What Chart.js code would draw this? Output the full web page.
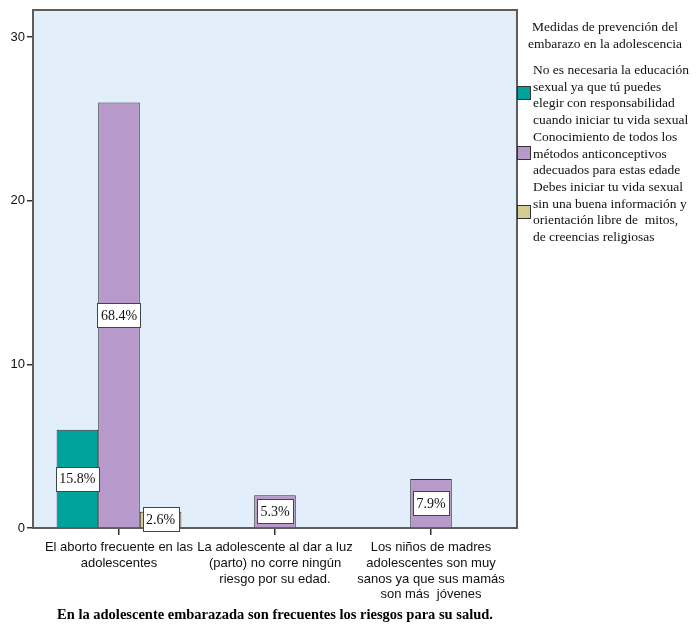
<!DOCTYPE html>
<html><head><meta charset="utf-8">
<script src="https://cdn.jsdelivr.net/npm/chart.js@4/dist/chart.umd.min.js"></script>
<style>
html,body{margin:0;padding:0;background:#fff;}
#wrap{position:relative;width:696px;height:626px;overflow:hidden;}
canvas{position:absolute;left:0;top:0;}
.leg{position:absolute;font-family:"Liberation Serif","Times New Roman",serif;font-size:13.5px;line-height:16.5px;color:#111;white-space:pre;}
.box{position:absolute;width:12px;height:12px;border:1px solid #333;}
</style></head><body>
<div id="wrap"><canvas id="c" width="696" height="626"></canvas><div id="legend"></div></div>
<script>
const categories = [
  ["El aborto frecuente en las", "adolescentes"],
  ["La adolescente al dar a luz", "(parto) no corre ningún", "riesgo por su edad."],
  ["Los niños de madres", "adolescentes son muy", "sanos ya que sus mamás", "son más  jóvenes"]
];
const seriesNames = [
  ["No es necesaria la educación", "sexual ya que tú puedes", "elegir con responsabilidad", "cuando iniciar tu vida sexual"],
  ["Conocimiento de todos los", "métodos anticonceptivos", "adecuados para estas edade"],
  ["Debes iniciar tu vida sexual", "sin una buena información y", "orientación libre de  mitos,", "de creencias religiosas"]
];
const seriesNoNecesaria = [6, null, null];
const seriesConocimiento = [26, 2, 3];
const seriesDebes = [1, null, null];
const yTickValues = [0, 10, 20, 30];
const xAxisTitle = "En la adolescente embarazada son frecuentes los riesgos para su salud.";
const legendTitle = ["Medidas de prevención del", "embarazo en la adolescencia"];

const colors = ['#00a39c', '#b79acb', '#d5cc91'];
const allSeries = [seriesNoNecesaria, seriesConocimiento, seriesDebes];
const total = allSeries.flat().reduce((s, v) => s + (v || 0), 0);

const framePlugin = {
  id: 'frame',
  beforeDatasetsDraw(chart) {
    const a = chart.chartArea, ctx = chart.ctx;
    const l = a.left - 8, r = a.right + 8;
    ctx.save();
    ctx.fillStyle = '#e3eefb';
    ctx.fillRect(l, a.top, r - l, a.bottom - a.top);
    ctx.strokeStyle = '#5c5c5c';
    ctx.lineWidth = 2;
    ctx.strokeRect(l, a.top, r - l, a.bottom - a.top);
    ctx.restore();
  }
};

const labelPlugin = {
  id: 'pctLabels',
  afterDatasetsDraw(chart) {
    const ctx = chart.ctx;
    ctx.save();
    ctx.font = '14px "Liberation Serif", serif';
    ctx.textAlign = 'center';
    ctx.textBaseline = 'middle';
    chart.data.datasets.forEach((ds, i) => {
      const meta = chart.getDatasetMeta(i);
      meta.data.forEach((bar, j) => {
        const v = ds.data[j];
        if (v == null) return;
        const txt = (v / total * 100).toFixed(1) + '%';
        const cx = bar.x, cy = (bar.y + bar.base) / 2;
        const w = Math.round(ctx.measureText(txt).width + 7), h = 24;
        const x0 = Math.round(cx - w / 2) + 0.5, y0 = Math.round(cy - h / 2) + 0.5;
        ctx.fillStyle = '#ffffff';
        ctx.fillRect(x0, y0, w, h);
        ctx.strokeStyle = '#444';
        ctx.lineWidth = 1;
        ctx.strokeRect(x0, y0, w, h);
        ctx.fillStyle = '#111';
        ctx.fillText(txt, cx, cy + 1);
      });
    });
    ctx.restore();
  }
};

const chart = new Chart(document.getElementById('c'), {
  type: 'bar',
  data: {
    labels: categories,
    datasets: allSeries.map((d, i) => ({
      label: seriesNames[i].join(' '),
      data: d,
      backgroundColor: colors[i],
      borderColor: '#333',
      borderWidth: 1,
      borderSkipped: 'bottom',
      categoryPercentage: 0.8,
      barPercentage: 1.0
    }))
  },
  options: {
    responsive: false,
    animation: false,
    devicePixelRatio: 1,
    layout: { padding: { top: 10, right: 187, left: 0, bottom: 0 } },
    plugins: { legend: { display: false }, tooltip: { enabled: false } },
    scales: {
      x: {
        offset: true,
        border: { display: false },
        grid: { display: true, drawOnChartArea: false, offset: false, tickLength: 7, color: '#333', lineWidth: 1.5 },
        ticks: { color: '#111', font: { family: '"Liberation Sans", Arial, sans-serif', size: 13, lineHeight: 1.2 }, padding: 5, maxRotation: 0, autoSkip: false },
        title: { display: true, text: xAxisTitle, color: '#000', font: { family: '"Liberation Serif", serif', size: 14.5, weight: 'bold' }, padding: { top: 2, bottom: 2 } },
        afterFit(s) { s.height = 98; }
      },
      y: {
        min: 0, max: 31.65,
        border: { display: false },
        grid: { display: true, drawOnChartArea: false, tickLength: 14, color: '#333', lineWidth: 1.5 },
        ticks: { color: '#111', font: { family: '"Liberation Sans", Arial, sans-serif', size: 13 }, padding: 2 },
        afterBuildTicks(s) { s.ticks = yTickValues.map(v => ({ value: v })); },
        afterFit(s) { s.width = 41; }
      }
    }
  },
  plugins: [framePlugin, labelPlugin]
});

// HTML legend
const leg = document.getElementById('legend');
const t = document.createElement('div');
t.className = 'leg';
t.style.left = '520px'; t.style.top = '19px'; t.style.width = '170px'; t.style.textAlign = 'center';
t.textContent = legendTitle.join('\n');
leg.appendChild(t);
const itemTops = [62, 129, 179];
const boxTops = [86, 146, 205];
seriesNames.forEach((lines, i) => {
  const d = document.createElement('div');
  d.className = 'leg';
  d.style.left = '533px'; d.style.top = itemTops[i] + 'px';
  d.textContent = lines.join('\n');
  leg.appendChild(d);
  const b = document.createElement('div');
  b.className = 'box';
  b.style.left = '517px'; b.style.top = boxTops[i] + 'px';
  b.style.background = colors[i];
  leg.appendChild(b);
});
</script>
</body></html>
